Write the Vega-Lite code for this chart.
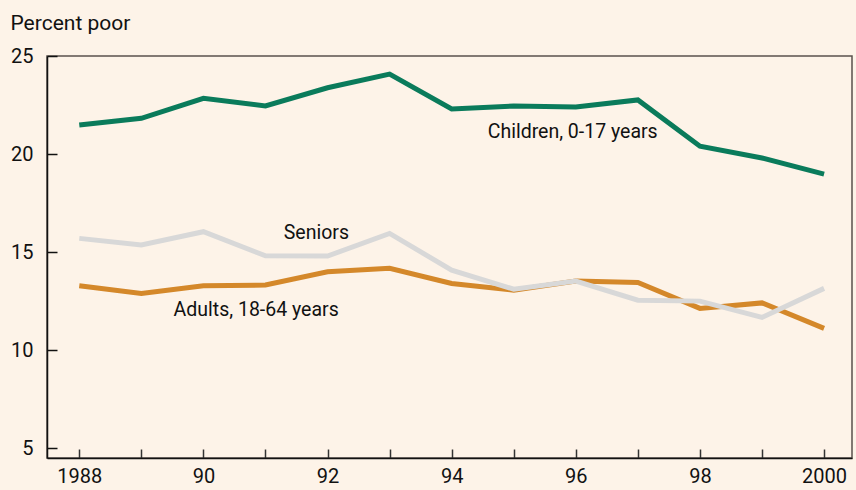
{
  "$schema": "https://vega.github.io/schema/vega-lite/v6.json",
  "autosize": {"type": "none"},
  "padding": {"left": 47, "top": 56, "right": 4, "bottom": 32},
  "width": 805,
  "height": 402,
  "background": "#fdf3e8",
  "config": {
    "view": {"stroke": "#5a524c", "strokeWidth": 1.5},
    "font": "Roboto"
  },
  "datasets": {
    "series": [
      {"series": "Children", "year": 1988, "value": 21.48},
      {"series": "Children", "year": 1989, "value": 21.82},
      {"series": "Children", "year": 1990, "value": 22.84},
      {"series": "Children", "year": 1991, "value": 22.45},
      {"series": "Children", "year": 1992, "value": 23.38},
      {"series": "Children", "year": 1993, "value": 24.08},
      {"series": "Children", "year": 1994, "value": 22.3},
      {"series": "Children", "year": 1995, "value": 22.45},
      {"series": "Children", "year": 1996, "value": 22.4},
      {"series": "Children", "year": 1997, "value": 22.76},
      {"series": "Children", "year": 1998, "value": 20.4},
      {"series": "Children", "year": 1999, "value": 19.8},
      {"series": "Children", "year": 2000, "value": 18.98},
      {"series": "Adults", "year": 1988, "value": 13.28},
      {"series": "Adults", "year": 1989, "value": 12.89},
      {"series": "Adults", "year": 1990, "value": 13.28},
      {"series": "Adults", "year": 1991, "value": 13.32},
      {"series": "Adults", "year": 1992, "value": 14.0},
      {"series": "Adults", "year": 1993, "value": 14.17},
      {"series": "Adults", "year": 1994, "value": 13.4},
      {"series": "Adults", "year": 1995, "value": 13.06},
      {"series": "Adults", "year": 1996, "value": 13.52},
      {"series": "Adults", "year": 1997, "value": 13.45},
      {"series": "Adults", "year": 1998, "value": 12.13},
      {"series": "Adults", "year": 1999, "value": 12.41},
      {"series": "Adults", "year": 2000, "value": 11.11},
      {"series": "Seniors", "year": 1988, "value": 15.7},
      {"series": "Seniors", "year": 1989, "value": 15.36},
      {"series": "Seniors", "year": 1990, "value": 16.04},
      {"series": "Seniors", "year": 1991, "value": 14.81},
      {"series": "Seniors", "year": 1992, "value": 14.8},
      {"series": "Seniors", "year": 1993, "value": 15.95},
      {"series": "Seniors", "year": 1994, "value": 14.08},
      {"series": "Seniors", "year": 1995, "value": 13.11},
      {"series": "Seniors", "year": 1996, "value": 13.52},
      {"series": "Seniors", "year": 1997, "value": 12.55},
      {"series": "Seniors", "year": 1998, "value": 12.5},
      {"series": "Seniors", "year": 1999, "value": 11.67},
      {"series": "Seniors", "year": 2000, "value": 13.15}
    ],
    "labels": [
      {"text": "Children, 0-17 years", "year": 1995.95, "value": 21.12},
      {"text": "Seniors", "year": 1991.82, "value": 15.97},
      {"text": "Adults, 18-64 years", "year": 1990.85, "value": 12.04}
    ]
  },
  "encoding": {
    "x": {
      "field": "year", "type": "quantitative",
      "scale": {"domain": [1987.48, 2000.45], "nice": false, "zero": false},
      "axis": {
        "title": null, "grid": false,
        "values": [1988,1989,1990,1991,1992,1993,1994,1995,1996,1997,1998,1999,2000],
        "format": "d",
        "labelExpr": "datum.value % 2 ? '' : ((datum.value == 1988 || datum.value == 2000) ? datum.label : substring(datum.label, 2, 4))",
        "labelOverlap": false, "labelFlush": false,
        "tickSize": -9, "tickColor": "#333", "tickWidth": 1.5,
        "domainColor": "#111", "domainWidth": 1.5,
        "labelFontSize": 20, "labelColor": "#111", "labelPadding": 17
      }
    },
    "y": {
      "field": "value", "type": "quantitative",
      "scale": {"domain": [4.5, 25], "nice": false, "zero": false},
      "axis": {
        "title": "Percent poor", "titleAngle": 0, "titleX": -37, "titleY": -27,
        "titleAlign": "left", "titleBaseline": "alphabetic",
        "titleFontSize": 21, "titleFontWeight": "normal", "titleColor": "#111",
        "grid": false, "values": [5, 10, 15, 20, 25],
        "tickSize": -10, "tickColor": "#111", "tickWidth": 1.5,
        "domainColor": "#111", "domainWidth": 1.5,
        "labelFontSize": 20, "labelColor": "#111", "labelPadding": 24
      }
    }
  },
  "layer": [
    {
      "data": {"name": "series"},
      "transform": [{"filter": "datum.series == 'Children'"}],
      "mark": {"type": "line", "color": "#0a7b5b", "strokeWidth": 5}
    },
    {
      "data": {"name": "series"},
      "transform": [{"filter": "datum.series == 'Adults'"}],
      "mark": {"type": "line", "color": "#d4882a", "strokeWidth": 5}
    },
    {
      "data": {"name": "series"},
      "transform": [{"filter": "datum.series == 'Seniors'"}],
      "mark": {"type": "line", "color": "#d8d8d8", "strokeWidth": 5}
    },
    {
      "data": {"name": "labels"},
      "mark": {"type": "text", "fontSize": 19.5, "color": "#111", "align": "center", "baseline": "middle"},
      "encoding": {"text": {"field": "text"}}
    }
  ]
}
